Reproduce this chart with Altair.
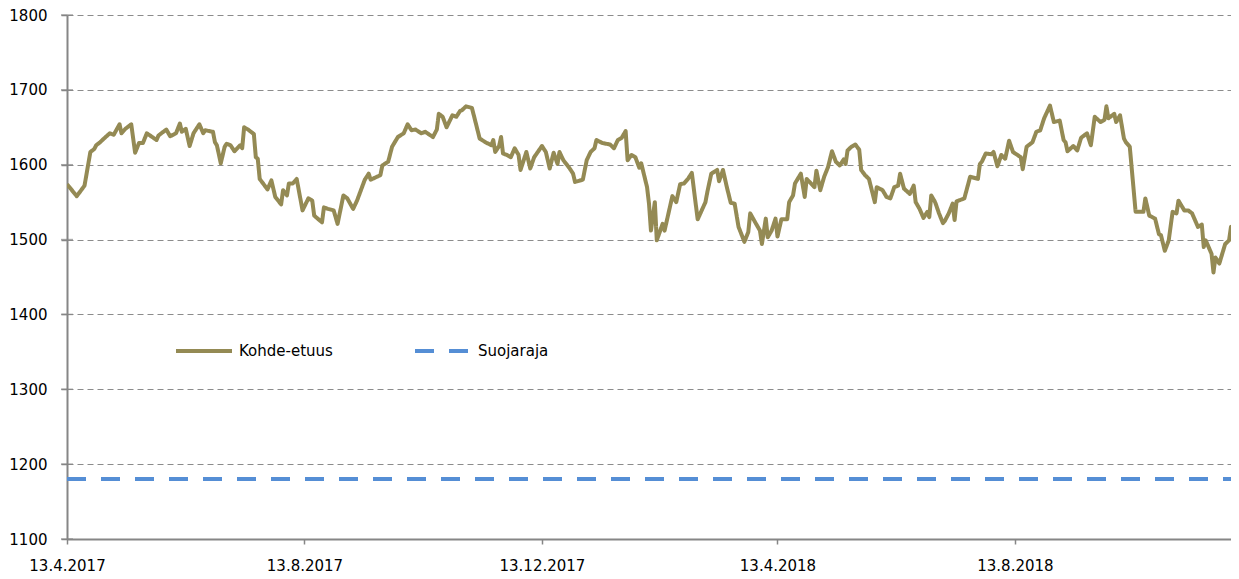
import altair as alt
import pandas as pd

# ---- data ----
start_date = "2017-04-13"
end_date = "2018-12-06"          # last observation (day 602)
view_end_date = "2018-12-02"     # right edge of the visible plot area

# trading observations: days after 13.4.2017 and index level
kohde_days = [
    0, 5, 9, 12, 14, 15, 17, 19, 22, 24, 27, 28, 30, 33, 35, 37, 39, 41, 46, 47,
    51, 53, 56, 58, 59, 61, 63, 65, 68, 70, 71, 75, 76, 77, 79, 81, 82, 84, 86, 89,
    90, 91, 93, 96, 97, 98, 99, 103, 105, 107, 110, 111, 113, 114, 116, 118, 121, 124, 126, 127,
    131, 132, 134, 137, 139, 142, 144, 147, 149, 153, 155, 156, 161, 162, 165, 167, 170, 173, 175, 177,
    179, 182, 184, 188, 190, 191, 193, 195, 198, 200, 202, 203, 205, 208, 209, 212, 215, 218, 219, 220,
    222, 223, 224, 226, 228, 230, 232, 233, 236, 238, 240, 244, 246, 248, 250, 252, 253, 255, 258, 260,
    261, 265, 267, 269, 271, 272, 275, 279, 281, 283, 285, 287, 288, 290, 292, 294, 295, 298, 299, 300,
    302, 303, 306, 307, 311, 313, 315, 317, 319, 321, 324, 328, 329, 331, 334, 335, 337, 339, 341, 343,
    345, 348, 350, 351, 354, 356, 357, 359, 360, 362, 364, 365, 367, 370, 371, 373, 374, 377, 379, 380,
    384, 385, 387, 389, 391, 393, 395, 397, 399, 400, 401, 403, 405, 407, 408, 410, 412, 415, 416, 419,
    421, 423, 425, 427, 428, 430, 433, 435, 436, 438, 440, 442, 443, 444, 446, 448, 450, 451, 453, 455,
    456, 457, 461, 464, 468, 469, 470, 472, 475, 476, 478, 480, 482, 484, 486, 490, 491, 493, 496, 498,
    500, 502, 505, 507, 510, 512, 513, 514, 517, 519, 521, 524, 526, 528, 531, 533, 534, 535, 538, 539,
    541, 543, 544, 546, 549, 553, 554, 556, 559, 561, 562, 564, 566, 568, 570, 571, 574, 576, 578, 581,
    583, 584, 585, 588, 589, 590, 592, 595, 597, 598, 600, 602,
]
kohde_values = [
    1574, 1558, 1572, 1617, 1621, 1626, 1630, 1635, 1642, 1640, 1654, 1642, 1648, 1654, 1616, 1629, 1629, 1642, 1633, 1639,
    1647, 1638, 1642, 1655, 1644, 1648, 1625, 1642, 1654, 1642, 1646, 1644, 1630, 1626, 1602, 1624, 1628, 1626, 1618, 1626,
    1622, 1650, 1647, 1641, 1610, 1608, 1581, 1567, 1579, 1557, 1547, 1566, 1559, 1575, 1575, 1581, 1539, 1555, 1552, 1532,
    1523, 1543, 1541, 1539, 1521, 1559, 1555, 1541, 1552, 1580, 1588, 1580, 1586, 1599, 1604, 1624, 1637, 1642, 1654, 1646,
    1647, 1642, 1644, 1637, 1647, 1668, 1664, 1650, 1666, 1664, 1672, 1673, 1678, 1676, 1666, 1635, 1630, 1626, 1633, 1617,
    1625, 1637, 1615, 1613, 1610, 1622, 1613, 1593, 1617, 1595, 1610, 1625, 1617, 1595, 1616, 1601, 1617, 1606, 1596, 1588,
    1577, 1580, 1606, 1617, 1622, 1633, 1629, 1627, 1622, 1633, 1636, 1645, 1606, 1613, 1610, 1596, 1602, 1570, 1548, 1512,
    1550, 1499, 1521, 1512, 1558, 1550, 1574, 1575, 1581, 1589, 1527, 1550, 1564, 1588, 1593, 1578, 1593, 1570, 1549, 1548,
    1517, 1497, 1510, 1535, 1521, 1512, 1494, 1528, 1503, 1512, 1528, 1504, 1527, 1527, 1550, 1559, 1575, 1588, 1557, 1581,
    1570, 1592, 1566, 1584, 1597, 1618, 1604, 1599, 1607, 1601, 1619, 1624, 1627, 1620, 1593, 1586, 1581, 1550, 1570, 1566,
    1557, 1555, 1570, 1572, 1588, 1568, 1561, 1572, 1550, 1541, 1529, 1537, 1530, 1559, 1550, 1535, 1522, 1525, 1535, 1548,
    1526, 1551, 1555, 1584, 1581, 1601, 1604, 1615, 1614, 1617, 1598, 1613, 1608, 1632, 1617, 1610, 1594, 1624, 1630, 1644,
    1646, 1662, 1679, 1657, 1659, 1633, 1630, 1618, 1625, 1619, 1636, 1642, 1626, 1664, 1657, 1660, 1678, 1662, 1668, 1657,
    1666, 1635, 1630, 1624, 1537, 1537, 1555, 1532, 1528, 1507, 1506, 1485, 1499, 1537, 1535, 1552, 1539, 1539, 1535, 1517,
    1520, 1490, 1499, 1481, 1456, 1476, 1468, 1494, 1499, 1517, 1519, 1541,
]

suoja_value = 1180
series_names = ["Kohde-etuus", "Suojaraja"]
series_colors = ["#948A54", "#558ED5"]
series_dashes = [[1, 0], [19, 15]]

y_ticks = [1100, 1200, 1300, 1400, 1500, 1600, 1700, 1800]
x_tick_dates = ["2017-04-13", "2017-08-13", "2017-12-13", "2018-04-13", "2018-08-13"]

# ---- build tables ----
t0 = pd.Timestamp(start_date)
kohde = pd.DataFrame({
    "date": [t0 + pd.Timedelta(days=d) for d in kohde_days],
    "value": kohde_values,
    "series": series_names[0],
})
suoja = pd.DataFrame({
    "date": [pd.Timestamp(start_date), pd.Timestamp(end_date)],
    "value": [suoja_value, suoja_value],
    "series": series_names[1],
})
df = pd.concat([kohde, suoja], ignore_index=True)
df["date"] = df["date"].dt.strftime("%Y-%m-%dT00:00:00")

ticks_df = pd.DataFrame({
    "date": [t0.strftime("%Y-%m-%dT00:00:00")] * len(y_ticks),
    "value": y_ticks,
})


def dt(s):
    ts = pd.Timestamp(s)
    return alt.DateTime(year=ts.year, month=ts.month, date=ts.day)


FONT = "DejaVu Sans"
FS = 15
AXIS_GREY = "#868686"

legend_opts = dict(
    title=None,
    orient="none",
    legendX=107,
    legendY=306,
    direction="horizontal",
    symbolType="stroke",
    symbolSize=3136,
    symbolStrokeWidth=4,
    labelFont=FONT,
    labelFontSize=FS,
    labelColor="#000000",
    labelOffset=5,
    columnPadding=74,
    padding=0,
)

x_enc = alt.X(
    "date:T",
    scale=alt.Scale(domain=[dt(start_date), dt(view_end_date)]),
    axis=alt.Axis(
        values=[dt(s) for s in x_tick_dates],
        format="%-d.%-m.%Y",
        grid=False,
        title=None,
        tickSize=5,
        tickColor=AXIS_GREY,
        tickWidth=1.5,
        domainColor=AXIS_GREY,
        domainWidth=2,
        labelPadding=26,
        labelBaseline="alphabetic",
        labelFont=FONT,
        labelFontSize=FS,
        labelColor="#000000",
        labelFlush=False,
        labelOverlap=False,
    ),
)
y_enc = alt.Y(
    "value:Q",
    scale=alt.Scale(domain=[1100, 1800], nice=False, zero=False),
    axis=alt.Axis(
        values=y_ticks,
        format="d",
        title=None,
        grid=True,
        gridDash=[6, 4],
        gridColor="#8c8c8c",
        gridWidth=1,
        tickSize=6,
        tickColor=AXIS_GREY,
        tickWidth=1.5,
        domainColor=AXIS_GREY,
        domainWidth=2,
        labelPadding=14,
        labelFont=FONT,
        labelFontSize=FS,
        labelColor="#000000",
        labelFlush=False,
    ),
)

lines = (
    alt.Chart(df)
    .mark_line(strokeWidth=4, clip=True, strokeJoin="round")
    .encode(
        x=x_enc,
        y=y_enc,
        color=alt.Color(
            "series:N",
            scale=alt.Scale(domain=series_names, range=series_colors),
            legend=alt.Legend(**legend_opts),
        ),
        strokeDash=alt.StrokeDash(
            "series:N",
            scale=alt.Scale(domain=series_names, range=series_dashes),
            legend=alt.Legend(**legend_opts),
        ),
    )
)

# y-axis tick marks that cross the axis line (as in the original)
cross_ticks = (
    alt.Chart(ticks_df)
    .mark_tick(orient="horizontal", size=12, thickness=1.5, color=AXIS_GREY)
    .encode(x=alt.X("date:T"), y=alt.Y("value:Q"))
)

chart = (
    alt.layer(lines, cross_ticks)
    .properties(
        width=1164,
        height=524,
        autosize=alt.AutoSizeParams(type="none"),
        padding={"left": 59, "top": 7, "right": 0, "bottom": 42},
        background="white",
    )
    .configure_view(stroke=None)
)

chart.save("out.html", embed_options={"renderer": "svg", "actions": False})
